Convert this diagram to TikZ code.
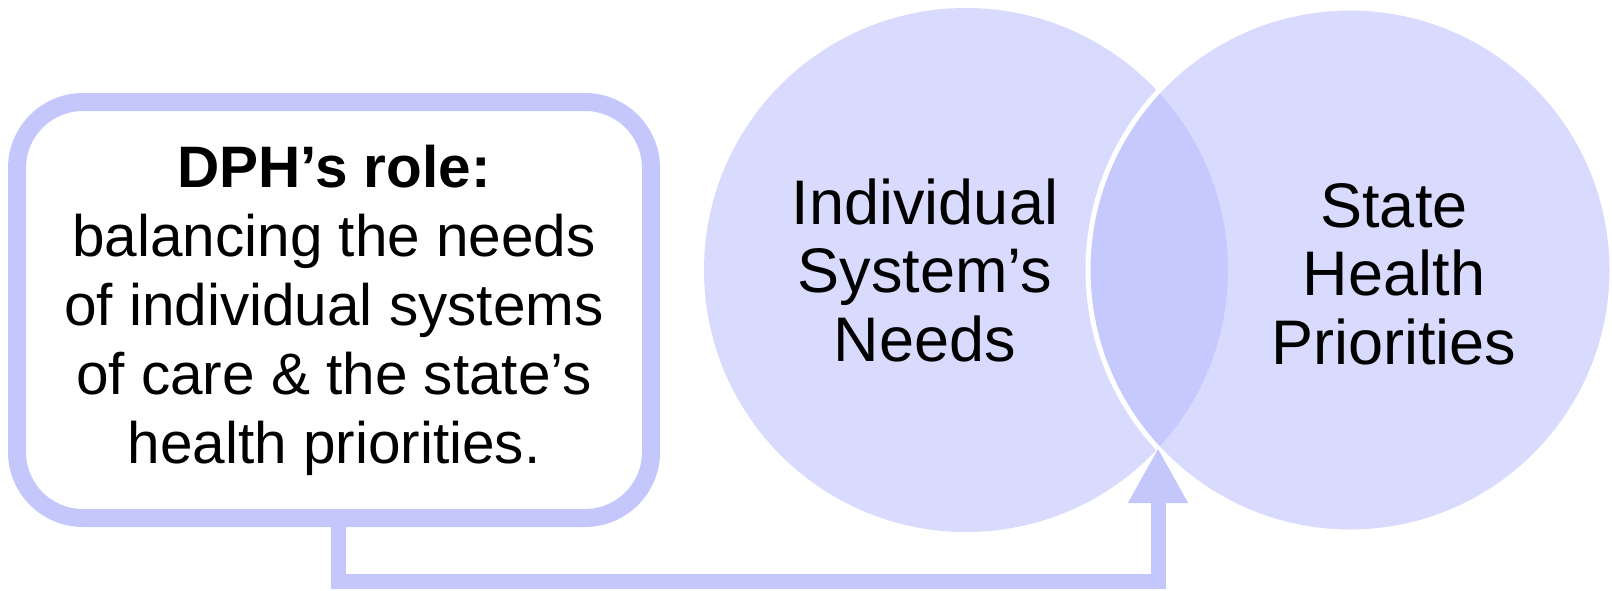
\documentclass[tikz,border=0pt]{standalone}
\usepackage{fontspec}
\setmainfont{Liberation Sans}
\usetikzlibrary{arrows.meta}
\definecolor{boxline}{RGB}{196,199,252}
\definecolor{circfill}{RGB}{217,219,254}
\definecolor{lensfill}{RGB}{197,201,253}
\tikzset{
  rolebox/.style={draw=boxline, line width=18pt, rounded corners=66pt, fill=white,
    minimum width=634pt, minimum height=416pt, inner sep=0pt, align=center,
    font=\fontsize{58.5}{69}\selectfont},
  circtext/.style={align=center, inner sep=0pt, font=\fontsize{63}{68.5}\selectfont},
  conn/.style={draw=boxline, line width=15pt, -{Triangle[width=56pt,length=55pt]}}
}
\begin{document}
\begin{tikzpicture}[x=1pt,y=-1pt]
\useasboundingbox (0,0) rectangle (1612,590);
\coordinate (cl) at (966,270);
\coordinate (cr) at (1350,270);
\coordinate (meet) at (1158,448);
\coordinate (low) at (1158,581);

% circles
\fill[circfill] (cl) circle (262pt);
\fill[circfill] (cr) circle (262pt);
\begin{scope}
\clip (cl) circle (262pt);
\fill[lensfill] (cr) circle (262pt);
\end{scope}
\draw[white,line width=5pt] (cr) circle (262pt);

\node[circtext] (needs) at (925,270) {Individual\\System’s\\Needs};
\node[circtext] (state) at (1394,274) {State\\Health\\Priorities};

% box and arrow
\node[rolebox] (role) at (334,310) {\textbf{DPH’s role:}\\balancing the needs\\of individual systems\\of care \& the state’s\\health priorities.};
\draw[conn] ([xshift=4pt]role.south) |- (low) -- (meet);
\end{tikzpicture}
\end{document}
